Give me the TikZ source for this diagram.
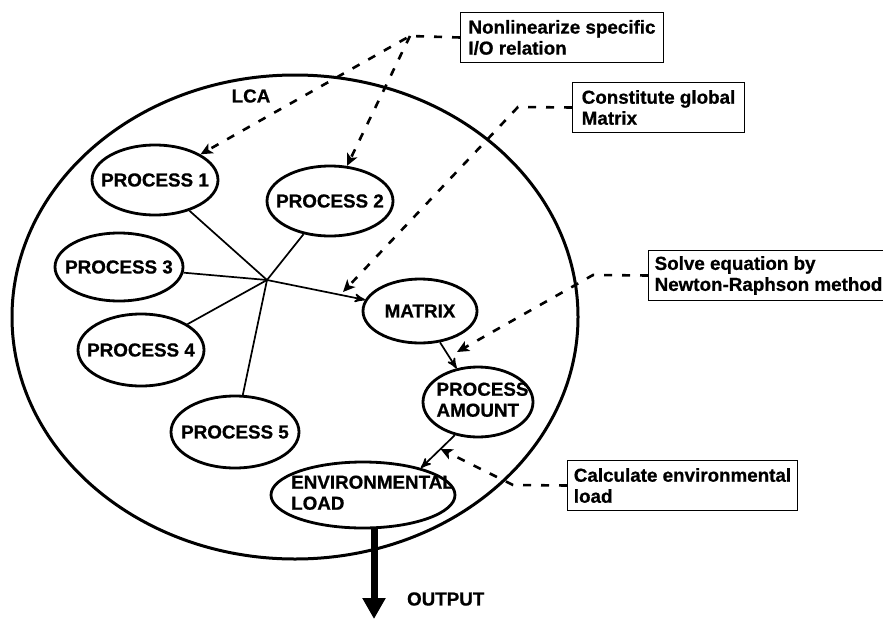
\documentclass[tikz,border=0pt]{standalone}
\usepackage{fontspec}
\setmainfont{Liberation Sans}[BoldFeatures={FakeBold=0.8}]
\usetikzlibrary{arrows}
\usetikzlibrary{arrows.meta}
\usetikzlibrary{shapes.geometric}
\usetikzlibrary{calc}
\newcommand{\zw}[1]{\makebox[0pt]{#1}}

\begin{document}
\begin{tikzpicture}[x=0.5pt, y=-0.5pt,
 every node/.style={font=\fontsize{9.4}{10.5}\selectfont\bfseries},
 proc/.style={draw, ellipse, line width=1.4pt, inner sep=0pt},
 note/.style={draw, line width=0.5pt, anchor=north west, align=left, inner sep=2.5pt, minimum height=25pt},
 link/.style={line width=0.85pt, >=stealth'},
 hint/.style={line width=1.3pt, dash pattern=on 4pt off 5pt, -{Stealth[length=6pt, width=5.5pt, inset=1.5pt]}}]
\useasboundingbox (0,0) rectangle (883,621);
\node[proc, line width=1.5pt, minimum width=283pt, minimum height=242pt] (lca) at (295,317) {};
\node (lcatext) at (251,96) {LCA};
\node[proc, minimum width=63pt, minimum height=35pt] (p1) at (155,180) {\zw{PROCESS 1}};
\node[proc, minimum width=63pt, minimum height=35pt] (p2) at (330,201) {\zw{PROCESS 2}};
\node[proc, minimum width=64pt, minimum height=34pt] (p3) at (119,267) {\zw{PROCESS 3}};
\node[proc, minimum width=63pt, minimum height=36pt] (p4) at (141,350) {\zw{PROCESS 4}};
\node[proc, minimum width=64pt, minimum height=36pt] (p5) at (235,432) {\zw{PROCESS 5}};
\node[proc, minimum width=57pt, minimum height=32pt] (matrix) at (420,311) {\zw{MATRIX}};
\node[proc, minimum width=55pt, minimum height=35pt] (amount) at (478,402) {\zw{\hspace*{4.5pt}\begin{tabular}{@{}l@{}}PROCESS\\AMOUNT\end{tabular}}};
\node[proc, minimum width=92pt, minimum height=33pt] (env) at (363,495) {\zw{\hspace*{9.5pt}\begin{tabular}{@{}l@{}}ENVIRONMENTAL\\LOAD\end{tabular}}};
\node[note, minimum width=101.5pt] (nonlin) at (460,12) {Nonlinearize specific\\I/O relation};
\node[note, minimum width=86pt] (global) at (572,82) {Constitute global\\Matrix};
\node[note, minimum width=120pt] (newton) at (648,250) {Solve equation by\\Newton-Raphson method};
\node[note, minimum width=115pt] (load) at (567,460) {Calculate environmental\\load};
\coordinate (hub) at (267,280);
\foreach \p in {p1,p2,p4,p5}
 \draw[link] (\p) -- (hub);
\draw[link, ->] (p3) -- (hub) -- (matrix);
\draw[link, ->] (matrix) -- (amount);
\draw[link, ->] (amount.235) -- (env.25);
\coordinate (k1) at (410,36);
\draw[hint] (nonlin.west) -- (k1) -- (p1);
\draw[hint] (k1) -- (p2);
\coordinate (k2) at (518,107);
\coordinate (t2) at (343,292);
\draw[hint] (global.west) -- (k2) -- (t2);
\coordinate (k3) at (593,275);
\coordinate (t3) at (457,352);
\draw[hint] (newton.west) -- (k3) -- (t3);
\coordinate (k4) at (513,485);
\coordinate (t4) at ($(amount.235)!0.42!(env.25)$);
\draw[hint] (load.west) -- (k4) -- (t4);
\coordinate (out) at (374,619);
\draw[line width=3.5pt, -{Triangle[length=10.5pt, width=11pt]}] (out |- env.south) -- (out);
\node[anchor=west] (outtext) at (400,599) {OUTPUT};
\end{tikzpicture}
\end{document}
